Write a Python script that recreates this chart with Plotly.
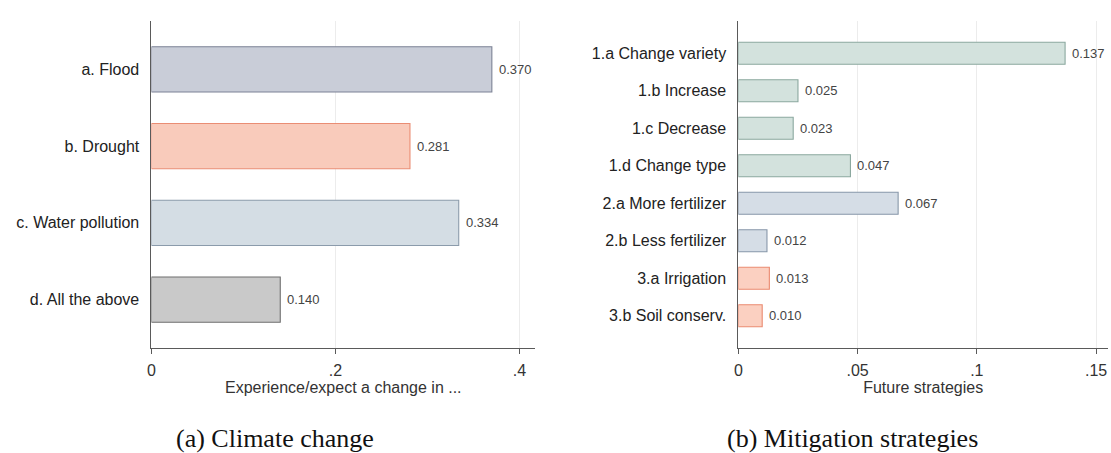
import plotly.graph_objects as go

# Panel (a)
cats_a = ["a. Flood", "b. Drought", "c. Water pollution", "d. All the above"]
vals_a = [0.370, 0.281, 0.334, 0.140]
fill_a = ["#c9cdd8", "#f9cbbb", "#d4dde4", "#c9c9c9"]
line_a = ["#7c8295", "#ea8d74", "#8b9bab", "#6f6f6f"]
ticks_a = [0, 0.2, 0.4]
ticklabels_a = ["0", ".2", ".4"]

# Panel (b)
cats_b = ["1.a Change variety", "1.b Increase", "1.c Decrease", "1.d Change type",
          "2.a More fertilizer", "2.b Less fertilizer", "3.a Irrigation", "3.b Soil conserv."]
vals_b = [0.137, 0.025, 0.023, 0.047, 0.067, 0.012, 0.013, 0.010]
fill_b = ["#d3e2dd"] * 4 + ["#d5dde6"] * 2 + ["#fbd0c1"] * 2
line_b = ["#8ba89f"] * 4 + ["#8797a9"] * 2 + ["#ea8a70"] * 2
ticks_b = [0, 0.05, 0.1, 0.15]
ticklabels_b = ["0", ".05", ".1", ".15"]

W, H = 1111, 453
def px(x):
    return x / W
def py(y):
    return 1 - y / H

fig = go.Figure()
fig.add_trace(go.Bar(x=vals_a, y=cats_a, orientation="h", xaxis="x", yaxis="y",
                     marker=dict(color=fill_a, line=dict(color=line_a, width=1.1)),
                     width=0.59, showlegend=False, hoverinfo="x+y"))
fig.add_trace(go.Bar(x=vals_b, y=cats_b, orientation="h", xaxis="x2", yaxis="y2",
                     marker=dict(color=fill_b, line=dict(color=line_b, width=1.1)),
                     width=0.59, showlegend=False, hoverinfo="x+y"))

font = "Liberation Sans, Arial, sans-serif"
ann = []
for c, v in zip(cats_a, vals_a):
    ann.append(dict(x=v, y=c, xref="x", yref="y", text=f"{v:.3f}", showarrow=False,
                    xanchor="left", xshift=5, font=dict(size=13, color="#444", family=font)))
for c, v in zip(cats_b, vals_b):
    ann.append(dict(x=v, y=c, xref="x2", yref="y2", text=f"{v:.3f}", showarrow=False,
                    xanchor="left", xshift=5, font=dict(size=13, color="#444", family=font)))
ann.append(dict(x=px(272), y=py(438), xref="paper", yref="paper", text="(a) Climate change",
                showarrow=False, xanchor="center", yanchor="middle",
                font=dict(size=26, color="#111", family="Liberation Serif, serif")))
ann.append(dict(x=px(852), y=py(438), xref="paper", yref="paper", text="(b) Mitigation strategies",
                showarrow=False, xanchor="center", yanchor="middle",
                font=dict(size=26, color="#111", family="Liberation Serif, serif")))

xcommon = dict(showline=True, linecolor="#5a5a5a", linewidth=1, ticks="outside", ticklen=5,
               tickcolor="#5a5a5a", showgrid=True, gridcolor="#ececec", gridwidth=1,
               zeroline=False, tickfont=dict(size=16, color="#333", family=font),
               ticklabelstandoff=3,
               title_font=dict(size=16, color="#333", family=font), title_standoff=0)
ycommon = dict(showline=True, linecolor="#5a5a5a", linewidth=1, ticks="", showgrid=False,
               zeroline=False, tickfont=dict(size=16, color="#222", family=font),
               ticklabelstandoff=8)

fig.update_layout(
    width=W, height=H, margin=dict(l=0, r=0, t=0, b=0),
    paper_bgcolor="white", plot_bgcolor="white",
    xaxis=dict(domain=[px(148), px(533)], range=[0, 0.417], tickvals=ticks_a,
               ticktext=ticklabels_a, title_text="Experience/expect a change in ...",
               anchor="y", **xcommon),
    yaxis=dict(domain=[py(348), py(21)], range=[3.63, -0.63], type="category",
               anchor="x", **ycommon),
    xaxis2=dict(domain=[px(737), px(1108)], range=[0, 0.155], tickvals=ticks_b,
                ticktext=ticklabels_b, title_text="Future strategies",
                anchor="y2", **xcommon),
    yaxis2=dict(domain=[py(348), py(21)], range=[7.86, -0.86], type="category",
                anchor="x2", **ycommon),
    annotations=ann,
    bargap=0.4,
)

fig.write_html("out.html", config={"displayModeBar": False},
               post_script="document.body.style.margin='0';document.body.style.overflow='hidden';")
